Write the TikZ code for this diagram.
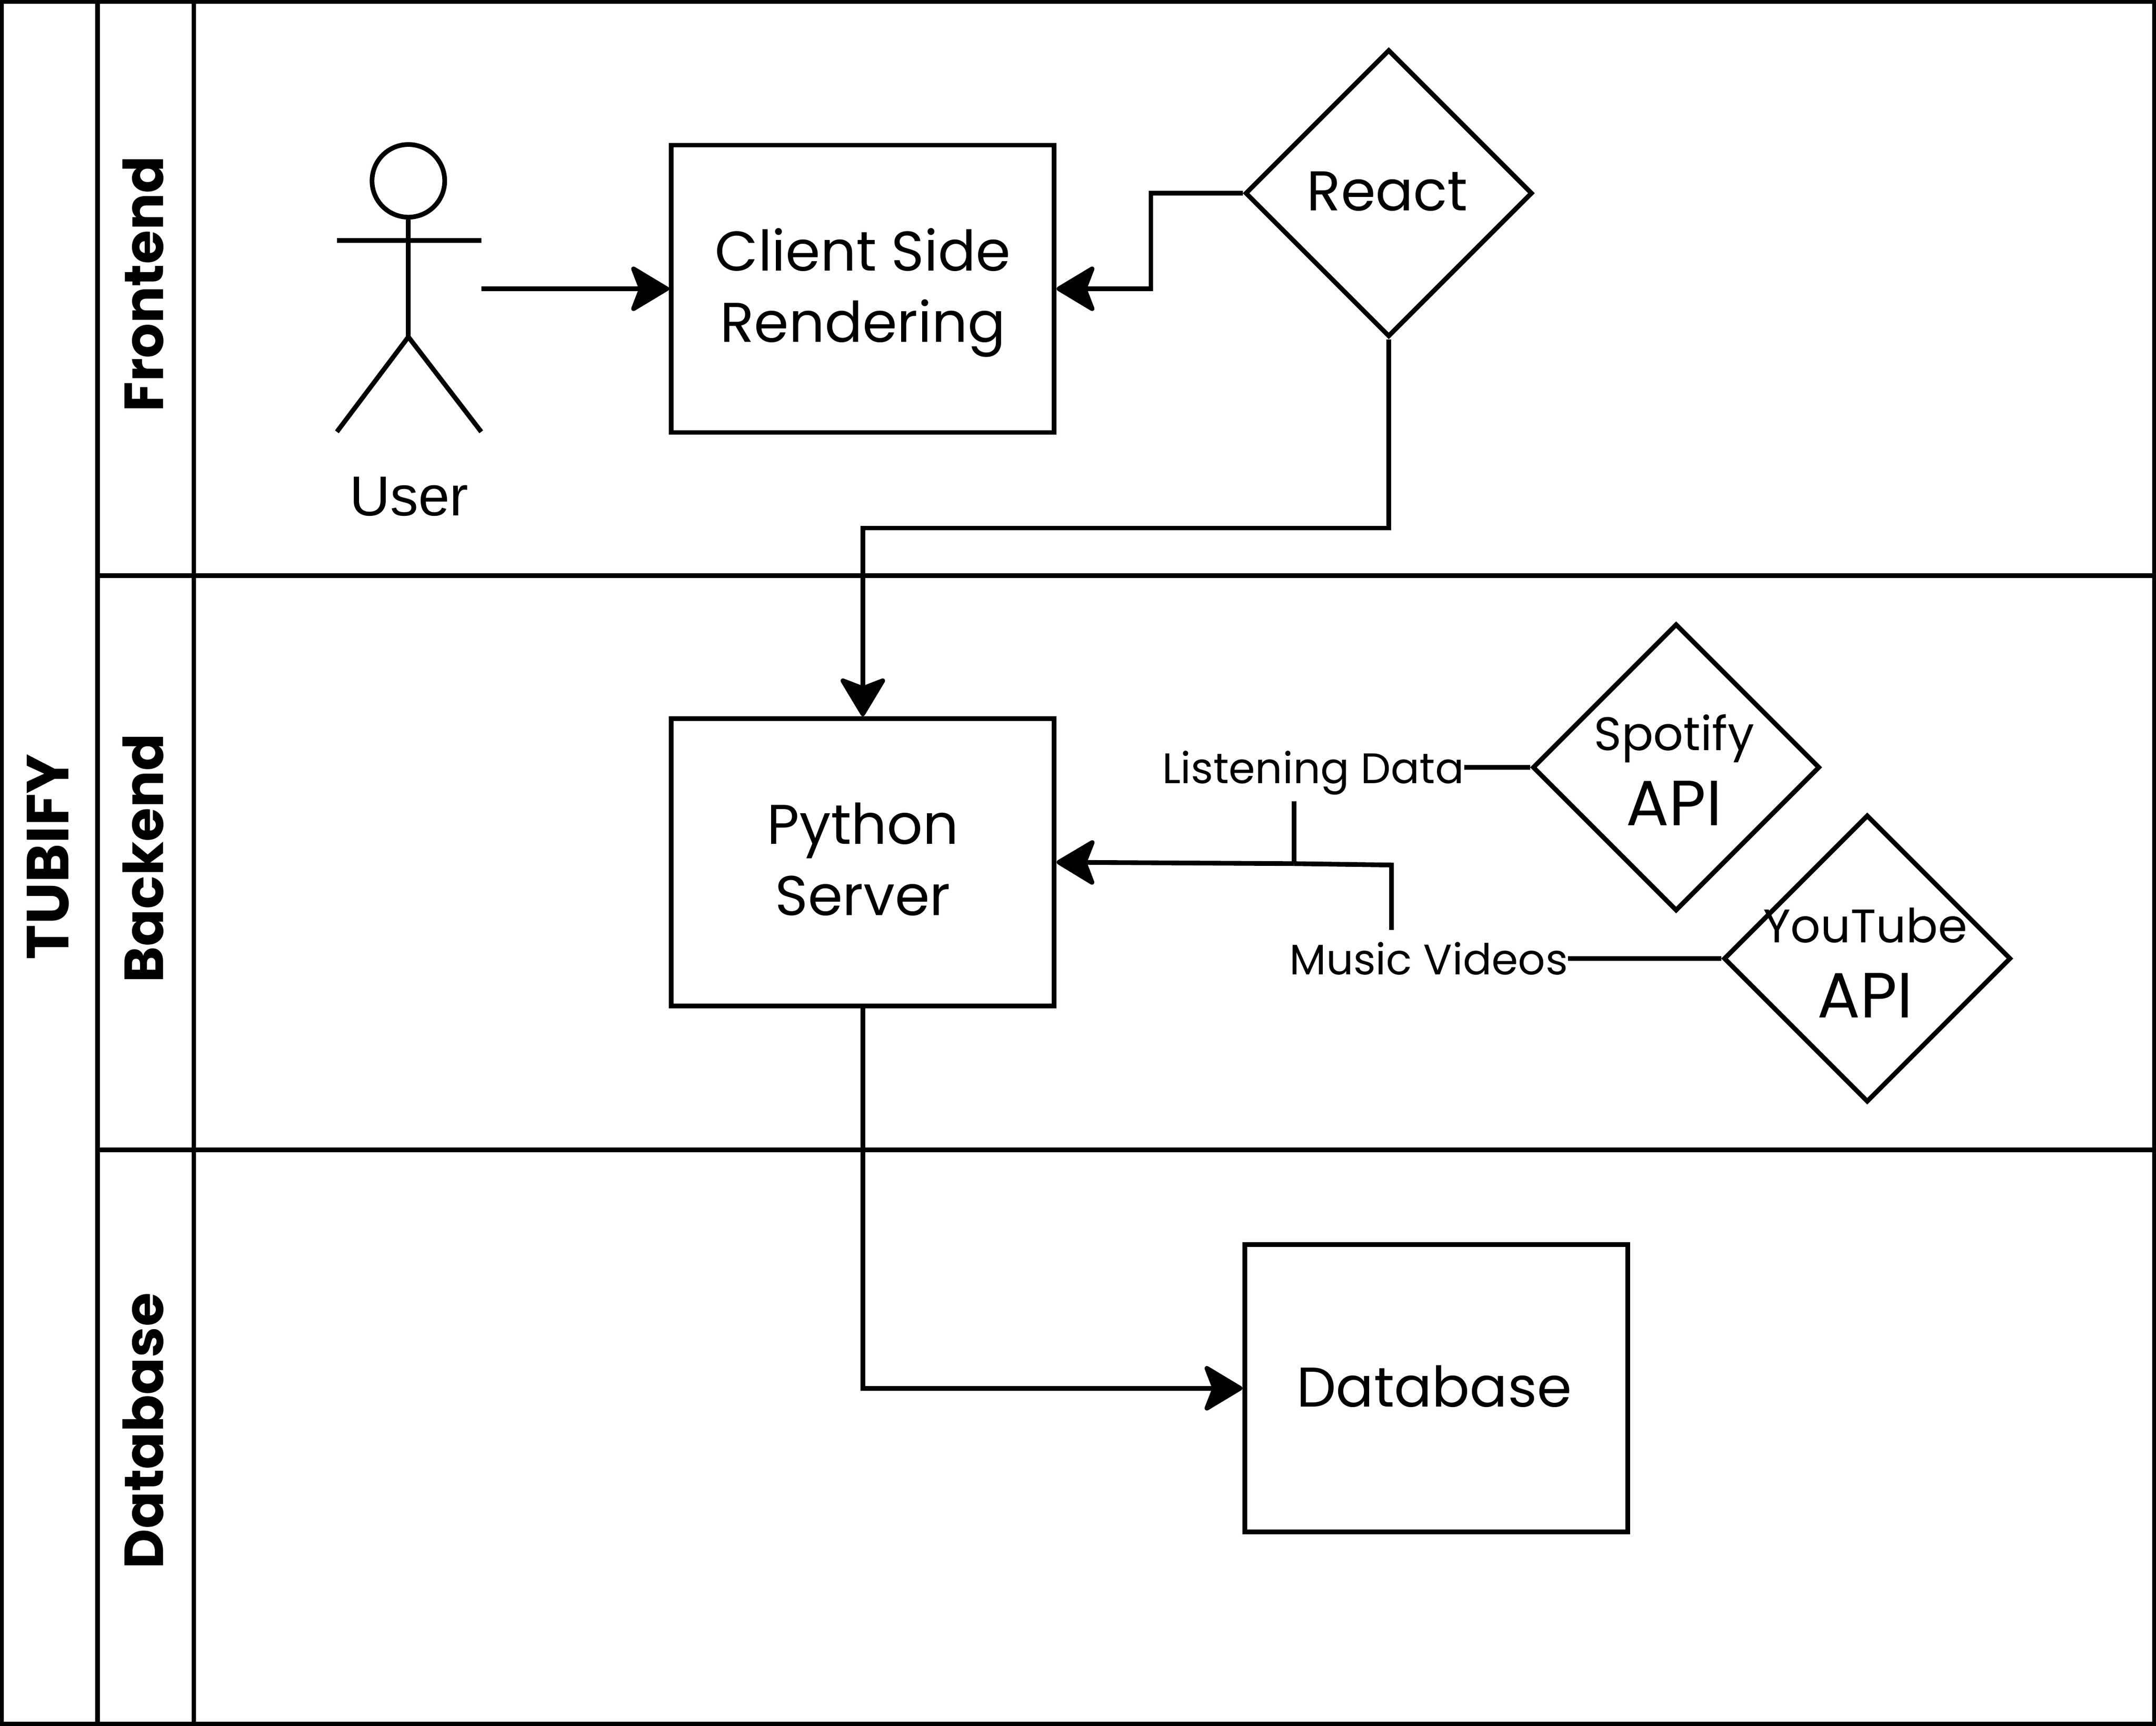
\documentclass[tikz,border=0pt]{standalone}
\usepackage{fontspec}
\setmainfont{Poppins}
\newfontfamily\userfont{Liberation Sans}
\usetikzlibrary{arrows.meta,shapes.geometric}
\tikzset{
  x=0.02876cm,y=-0.02876cm,
  line/.style={draw=black,line width=2.8pt,miter limit=10},
  conn/.style={line,-{Stealth[length=0.88cm,width=1.05cm,inset=0.2cm,round=false]}},
  procbox/.style={line,rectangle,minimum width=8.01cm,minimum height=6.01cm,inner sep=0pt,align=center,font=\fontsize{33.3}{42.5}\selectfont},
  api/.style={line,diamond,aspect=1,minimum width=6.01cm,minimum height=6.01cm,inner sep=0pt},
  lane/.style={rotate=90,font=\fontsize{32.7}{38}\selectfont\bfseries,inner sep=0pt},
  tag/.style={fill=white,inner sep=0pt,font=\fontsize{25.4}{30}\selectfont,minimum height=1.2cm},
  bigtext/.style={inner sep=0pt,font=\fontsize{33.3}{40}\selectfont},
  apitext/.style={inner sep=0pt,font=\fontsize{38}{44}\selectfont},
  smalltext/.style={inner sep=0pt,font=\fontsize{28}{34}\selectfont},
}
\begin{document}
\begin{tikzpicture}
\useasboundingbox (0,0) rectangle (1568,1255);
% swimlanes
\draw[line] (1,1) rectangle (1567,1253.5);
\draw[line] (71,1) -- (71,1253.5);
\draw[line] (141,1) -- (141,1253.5);
\draw[line] (71,418.5) -- (1567,418.5);
\draw[line] (71,836) -- (1567,836);
\node[lane,font=\fontsize{35.3}{40}\selectfont\bfseries] (title) at (35,623) {TUBIFY};
\node[lane] (front) at (104,206.5) {Frontend};
\node[lane] (back) at (104,624) {Backend};
\node[lane] (dbl) at (104,1040.5) {Database};
% actor
\node[minimum width=3.02cm,minimum height=6.01cm,inner sep=0pt] (actor) at (297.5,210) {};
\draw[line] (297,131.5) circle[radius=0.76cm];
\draw[line] (297,158) -- (297,245);
\draw[line] (245,175) -- (350,175);
\draw[line] (245,314) -- (297,245) -- (350,314);
\node[font=\userfont\fontsize{33.5}{40}\selectfont,inner sep=0pt] (user) at (297.5,361) {User};
% nodes
\node[procbox] (client) at (627.5,210) {\rule{0pt}{1.05cm}Client Side\\\vphantom{Ag}Rendering};
\node[procbox] (python) at (627.5,627) {\rule{0pt}{1.05cm}Python\\\vphantom{Ag}Server};
\node[procbox] (database) at (1044.5,1009.5) {};
\node[bigtext] (databaseText) at (1043,1008) {Database};
\node[api] (react) at (1010,140.5) {};
\node[bigtext] (reactText) at (1009,139) {React};
\node[api] (spotify) at (1219,558) {};
\node[smalltext] (spotifyText) at (1217.5,537) {Spotify};
\node[apitext] (spotifyApi) at (1217.5,584) {API};
\node[api] (youtube) at (1358,697) {};
\node[smalltext] (youtubeText) at (1356.5,673) {YouTube};
\node[apitext] (youtubeApi) at (1356.5,724) {API};
% connectors
\coordinate (bendA) at (941,558);
\coordinate (bendB) at (941,628);
\coordinate (bendC) at (1012,697);
\coordinate (bendD) at (1012,629);
\coordinate (reactMid) at (837,140.5);
\coordinate (renderMid) at (837,210);
\coordinate (reactLow) at (1010,384);
\coordinate (pyLow) at (627.5,384);
\coordinate (pyDown) at (627.5,1009.5);
\draw[conn] (actor.east) -- (client.west);
\draw[conn] (react.west) -- (reactMid) -- (renderMid) -- (client.east);
\draw[conn] (react.south) -- (reactLow) -- (pyLow) -- (python.north);
\draw[conn] (python.south) -- (pyDown) -- (database.west);
\draw[line] (spotify.west) -- (bendA) -- (bendB);
\draw[conn] (bendB) -- (python.east);
\draw[line] (youtube.west) -- (bendC) -- (bendD) -- (bendB);
\node[tag] (ld) at (955,562) {Listening Data};
\node[tag] (mv) at (1039,697) {Music Videos};
\end{tikzpicture}
\end{document}
